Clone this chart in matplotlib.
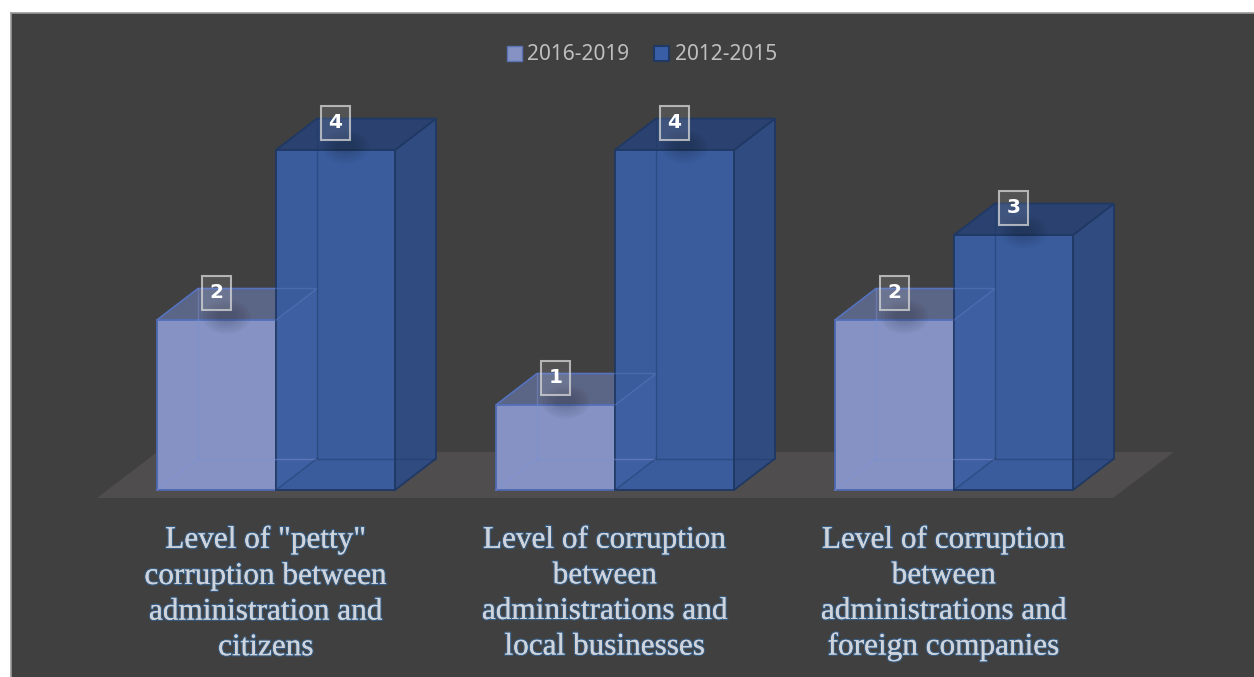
import matplotlib
matplotlib.use('Agg')
import matplotlib.pyplot as plt
from matplotlib.patches import Polygon, Patch, Ellipse
import matplotlib.patheffects as pe

categories = ['Level of "petty"\ncorruption between\nadministration and\ncitizens',
              'Level of corruption\nbetween\nadministrations and\nlocal businesses',
              'Level of corruption\nbetween\nadministrations and\nforeign companies']
series_names = ['2016-2019', '2012-2015']
values_2016_2019 = [2, 1, 2]
values_2012_2015 = [4, 4, 3]

bg = '#404040'
bar_w = 0.351
# oblique depth offset of the fake 3d boxes
dx, dy = 0.121, 0.37

light = dict(front='#8592c3', top='#5b6585', side='#6b7aa8', edge='#4d68b0')
dark = dict(front='#3a5c9d', top='#2b4270', side='#2f4b80', edge='#1f3864')

fig = plt.figure(figsize=(12.54, 6.77), dpi=100, facecolor='white')
ax = fig.add_axes([11 / 1254, 0, 1243 / 1254, 664 / 677])
ax.set_facecolor(bg)
ax.set_xlim(-0.7817, 2.885)
ax.set_ylim(-2.2, 5.612)
ax.set_xticks([])
ax.set_yticks([])
for s in ['right', 'bottom']:
    ax.spines[s].set_visible(False)
for s in ['left', 'top']:
    ax.spines[s].set_color('#9a9a9a')
    ax.spines[s].set_linewidth(1.2)

n = len(categories)
# floor plane under the bars
floor = Polygon([(-0.528, -0.094), (n - 1 + 0.469, -0.094),
                 (n - 1 + 0.649, 0.447), (-0.351, 0.447)],
                closed=True, fc='#4f4d4d', ec='none', zorder=1)
ax.add_patch(floor)


def box_faces(x0, h):
    x1 = x0 + bar_w
    front = [(x0, 0), (x1, 0), (x1, h), (x0, h)]
    top = [(x0, h), (x1, h), (x1 + dx, h + dy), (x0 + dx, h + dy)]
    side = [(x1, 0), (x1 + dx, dy), (x1 + dx, h + dy), (x1, h)]
    return front, top, side


def draw_box(x0, h, c, z):
    front, top, side = box_faces(x0, h)
    for pts, key in [(side, 'side'), (top, 'top'), (front, 'front')]:
        ax.add_patch(Polygon(pts, closed=True, fc=c[key], ec=c['edge'], lw=1.3, zorder=z))


def draw_hidden(x0, h, c, z):
    # back edges seen through the translucent faces
    x1 = x0 + bar_w
    kw = dict(color=c['edge'], lw=1, alpha=0.45, zorder=z)
    ax.plot([x0 + dx, x0 + dx], [dy, h + dy], **kw)
    ax.plot([x0 + dx, x1 + dx], [dy, dy], **kw)
    ax.plot([x0, x0 + dx], [0, dy], **kw)


for i in range(n):
    xl = i - bar_w
    xd = i
    draw_box(xl, values_2016_2019[i], light, 2)
    draw_box(xd, values_2012_2015[i], dark, 3)
    # light box behind the dark one shows a little through it
    _, ltop, lside = box_faces(xl, values_2016_2019[i])
    ax.add_patch(Polygon(lside, closed=True, fc='#6f8fd8', ec='none', alpha=0.08, zorder=4))
    ax.add_patch(Polygon(ltop, closed=True, fc='none', ec='#6f8fd8', lw=1, alpha=0.3, zorder=4))
    draw_hidden(xl, values_2016_2019[i], dict(edge='#7d90d8'), 4)
    draw_hidden(xd, values_2012_2015[i], dark, 4)

# value labels with a soft shadow on the box top
for i in range(n):
    for x0, v in [(i - bar_w, values_2016_2019[i]), (i, values_2012_2015[i])]:
        xc = x0 + bar_w / 2
        for k in range(5):
            ax.add_patch(Ellipse((xc + 0.03, v + 0.04), 0.14 - 0.02 * k, 0.4 - 0.06 * k,
                                 fc='black', ec='none', alpha=0.03, zorder=5))
        ax.text(xc, v + 0.32, str(v), ha='center', va='center',
                color='white', fontsize=14.5, fontweight='bold', family='DejaVu Sans', zorder=6,
                bbox=dict(boxstyle='square,pad=0.38', fc=(1, 1, 1, 0.1),
                          ec=(0.85, 0.85, 0.85, 0.75), lw=1.5))

# category labels below the floor
for i, lab in enumerate(categories):
    ax.text(i - 0.03, -0.42, lab, ha='center', va='top', color='#d0d4da', fontsize=22.5,
            family='Liberation Serif', linespacing=1.3, zorder=5,
            path_effects=[pe.withStroke(linewidth=1.8, foreground='#35679a', alpha=0.75),
                          pe.Normal()])

handles = [Patch(fc=light['front'], ec='#5a73b5', lw=1),
           Patch(fc='#3a5ea6', ec=dark['edge'], lw=1.5)]
leg = fig.legend(handles, series_names, loc='center', bbox_to_anchor=(642 / 1254, 1 - 55 / 677),
                 ncol=2, frameon=False, handlelength=0.72, handleheight=0.72,
                 handletextpad=0.25, columnspacing=1.2, prop={'family': 'Noto Sans', 'size': 15})
for t in leg.get_texts():
    t.set_color('#bfbfbf')

plt.savefig('out.png', dpi=100, facecolor='white')
